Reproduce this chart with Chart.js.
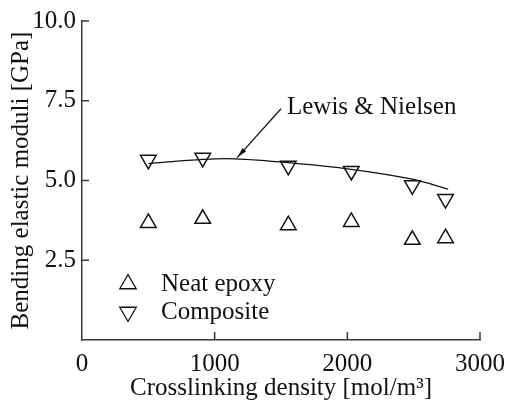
<!DOCTYPE html>
<html>
<head>
<meta charset="utf-8">
<script src="https://cdn.jsdelivr.net/npm/chart.js@4/dist/chart.umd.min.js"></script>
<style>
  body { margin: 0; background: #fff; }
  #wrap { width: 514px; height: 405px; }
</style>
</head>
<body>
<div id="wrap"><canvas id="modChart"></canvas></div>
<script>
// values
const density = [500, 910, 1555, 2030, 2490, 2740];
const neatEpoxy = [3.67, 3.80, 3.60, 3.70, 3.14, 3.19];
const composite = [5.65, 5.71, 5.46, 5.30, 4.85, 4.42];
const modelDensity = [500, 910, 1150, 1555, 2030, 2490, 2760];
const modelModulus = [5.53, 5.66, 5.68, 5.56, 5.35, 5.04, 4.73];
const xTicks = [0, 1000, 2000, 3000];
const yTicks = [2.5, 5.0, 7.5, 10.0];

const ink = "#111";
const axisInk = "#3a3a3a";
const serif = "'Liberation Serif', 'DejaVu Serif', serif";
const fontSize = 25;

const toXY = (xs, ys) => xs.map((x, i) => ({x: x, y: ys[i]}));

// inward tick marks, arrow note and the legend drawn inside the plot
const extras = {
    id: "extras",
    afterDraw(chart) {
        const c = chart.ctx;
        const sx = chart.scales.x, sy = chart.scales.y;
        const area = chart.chartArea;
        c.save();
        c.strokeStyle = axisInk;
        c.lineWidth = 1.5;
        c.beginPath();
        xTicks.slice(1).forEach(v => {
            const px = sx.getPixelForValue(v);
            c.moveTo(px, area.bottom);
            c.lineTo(px, area.bottom - 8);
        });
        yTicks.forEach(v => {
            const py = sy.getPixelForValue(v);
            c.moveTo(area.left, py);
            c.lineTo(area.left + 7, py);
        });
        c.stroke();

        // Lewis & Nielsen note with arrow
        const tx = sx.getPixelForValue(1500), ty = sy.getPixelForValue(7.25);
        const hx = sx.getPixelForValue(1170), hy = sy.getPixelForValue(5.72);
        c.strokeStyle = ink;
        c.fillStyle = ink;
        c.lineWidth = 1.2;
        c.beginPath();
        c.moveTo(tx, ty);
        c.lineTo(hx, hy);
        c.stroke();
        const ang = Math.atan2(hy - ty, hx - tx);
        c.beginPath();
        c.moveTo(hx, hy);
        c.lineTo(hx - 11 * Math.cos(ang - 0.22), hy - 11 * Math.sin(ang - 0.22));
        c.lineTo(hx - 11 * Math.cos(ang + 0.22), hy - 11 * Math.sin(ang + 0.22));
        c.closePath();
        c.fill();
        c.font = fontSize + "px " + serif;
        c.textBaseline = "middle";
        c.textAlign = "left";
        c.fillText("Lewis & Nielsen", tx + 6, ty - 1);

        // legend
        const items = [["Neat epoxy", 0], ["Composite", 180]];
        items.forEach((it, i) => {
            const ly = 284 + i * 28;
            c.lineWidth = 1.3;
            c.strokeStyle = ink;
            c.fillStyle = "rgba(255,255,255,0)";
            Chart.helpers.drawPoint(c, {pointStyle: "triangle", radius: 9.5, rotation: it[1], borderWidth: 1.3}, 128, ly);
            c.fillStyle = ink;
            c.fillText(it[0], 161, ly);
        });
        c.restore();
    }
};

const ctx = document.getElementById("modChart").getContext("2d");

const modChart = new Chart(ctx, {
    type: "scatter",
    data: {
        datasets: [{
            label: "Lewis & Nielsen",
            data: toXY(modelDensity, modelModulus),
            showLine: true,
            tension: 0.3,
            borderColor: ink,
            borderWidth: 1.3,
            pointRadius: 0
        }, {
            label: "Neat epoxy",
            data: toXY(density, neatEpoxy),
            pointStyle: "triangle",
            pointRadius: 9,
            borderColor: ink,
            borderWidth: 1.5,
            backgroundColor: "rgba(255,255,255,0)"
        }, {
            label: "Composite",
            data: toXY(density, composite),
            pointStyle: "triangle",
            rotation: 180,
            pointRadius: 9,
            borderColor: ink,
            borderWidth: 1.5,
            backgroundColor: "rgba(255,255,255,0)"
        }]
    },
    options: {
        responsive: true,
        maintainAspectRatio: false,
        animation: false,
        layout: {padding: {top: 16, right: 26, left: 0, bottom: 0}},
        plugins: {legend: {display: false}, tooltip: {enabled: false}},
        scales: {
            x: {
                type: "linear",
                min: 0,
                max: 3000,
                afterFit: s => { s.height = 65; },
                afterBuildTicks: s => { s.ticks = xTicks.map(v => ({value: v})); },
                grid: {display: false, drawTicks: false},
                border: {display: true, color: axisInk, width: 1.5},
                ticks: {
                    color: ink,
                    padding: 9,
                    maxRotation: 0,
                    font: {family: serif, size: fontSize},
                    callback: v => String(v)
                },
                title: {
                    display: true,
                    text: "Crosslinking density [mol/m³]",
                    color: ink,
                    padding: {top: 0, bottom: 2},
                    font: {family: serif, size: fontSize}
                }
            },
            y: {
                min: 0,
                max: 10,
                afterFit: s => { s.width = 82; },
                afterBuildTicks: s => { s.ticks = yTicks.map(v => ({value: v})); },
                grid: {display: false, drawTicks: false},
                border: {display: true, color: axisInk, width: 1.5},
                ticks: {
                    color: ink,
                    padding: 6,
                    font: {family: serif, size: fontSize},
                    callback: v => v.toFixed(1)
                },
                title: {
                    display: true,
                    text: "Bending elastic moduli [GPa]",
                    color: ink,
                    padding: {top: 6, bottom: 0},
                    font: {family: serif, size: fontSize}
                }
            }
        }
    },
    plugins: [extras]
});
</script>
</body>
</html>
